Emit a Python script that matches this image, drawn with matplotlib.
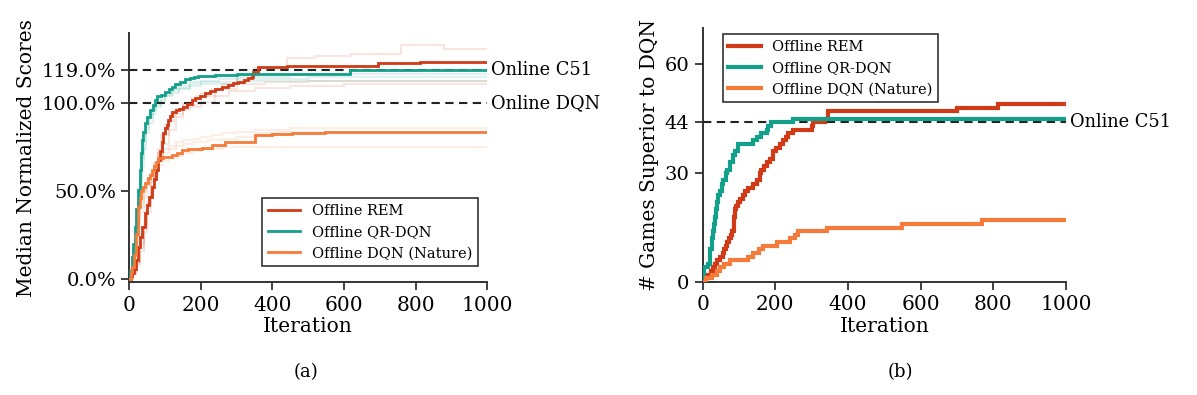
import matplotlib
matplotlib.use("Agg")
import matplotlib.pyplot as plt

plt.rcParams['font.family'] = ['DejaVu Serif']
plt.rcParams['lines.solid_joinstyle'] = 'miter'

# ---- panel (a): median normalized scores (%) ----
rem_it = [0, 4, 7, 12, 18, 25, 30, 36, 44, 50, 56, 63, 70, 76, 81, 86, 91, 95, 100, 105, 109, 114, 118,
          130, 140, 151, 162, 174, 185, 198, 212, 225, 240, 258, 275, 290, 305, 320, 333, 342, 347,
          361, 440, 520, 696, 813, 1000]
rem_sc = [0, 2, 3.4, 6, 11, 18.5, 24, 30, 37.5, 42, 47, 52.6, 57, 62, 67.8, 73, 78, 83, 86, 88, 90.5, 93, 95,
          96, 97, 98, 99.5, 102, 103, 104, 105.7, 107, 108, 109.4, 110.5, 111.5, 112.3, 113.5, 114.5, 115, 118,
          120.5, 121, 121.3, 123, 123.6, 123.6]

qr_it = [0, 3, 7, 11, 16, 20, 25, 29, 32, 35, 39, 44, 50, 58, 65, 72, 77, 88, 100, 110, 120, 128, 142,
         156, 170, 180, 193, 215, 240, 268, 300, 342, 450, 617, 1000]
qr_sc = [0, 5, 12.8, 20, 30, 40, 51, 62, 72, 79, 84, 88.6, 92, 96, 99, 102, 104, 105, 106.6, 108, 109.5, 111, 112,
         113.6, 114.3, 114.8, 115.5, 115.8, 116, 116.2, 116.5, 116.7, 117, 119, 119]

dqn_it = [0, 4, 7, 12, 18, 25, 30, 34, 39, 45, 52, 58, 63, 70, 76, 81, 95, 118, 132, 146, 165, 180, 202,
          230, 268, 342, 351, 400, 454, 547, 1000]
dqn_sc = [0, 4, 7, 14, 26, 41, 46, 50, 52.6, 55, 57.5, 59.5, 62, 64.5, 66.5, 68.7, 69.5, 70.6, 72, 73.5, 74, 74.2, 74.4,
          76.3, 78.2, 78.2, 81.8, 82.5, 83, 83.5, 83.5]

# faint individual runs (panel a)
rem_runs = [
    ([0, 10, 20, 30, 40, 50, 60, 70, 80, 90, 100, 115, 130, 150, 175, 200, 230, 260, 300, 350, 440, 520, 620, 760, 880, 1000],
     [0, 4, 10, 20, 32, 44, 56, 66, 74, 82, 88, 93, 97, 100, 103, 106, 108, 111, 116, 120, 126, 127, 128, 133, 131, 131]),
    ([0, 10, 20, 30, 40, 50, 60, 70, 80, 95, 110, 130, 150, 170, 200, 240, 280, 350, 450, 600, 1000],
     [0, 3, 8, 16, 27, 38, 50, 60, 68, 77, 85, 92, 96, 98, 101, 104, 107, 109, 110, 111, 111]),
    ([0, 10, 20, 30, 40, 50, 60, 70, 80, 95, 110, 125, 150, 190, 240, 300, 380, 500, 1000],
     [0, 4, 9, 18, 30, 42, 53, 63, 72, 82, 90, 94, 99, 104, 108, 111, 112, 113, 113]),
]
qr_runs = [
    ([0, 5, 10, 15, 20, 25, 30, 35, 40, 48, 55, 65, 75, 90, 100, 120, 140, 170, 200, 250, 300, 450, 1000],
     [0, 7, 15, 24, 35, 48, 62, 74, 82, 89, 94, 98, 101, 104, 106, 108, 110, 112, 113, 114, 115, 117, 117]),
    ([0, 5, 10, 15, 20, 25, 30, 35, 40, 48, 55, 65, 75, 90, 100, 120, 140, 170, 200, 300, 1000],
     [0, 5, 11, 19, 29, 40, 52, 64, 74, 83, 89, 94, 98, 101, 104, 106, 108, 110, 111, 113, 113]),
    ([0, 5, 10, 15, 20, 25, 30, 35, 40, 48, 55, 65, 75, 90, 100, 120, 140, 170, 200, 300, 500, 1000],
     [0, 6, 13, 22, 32, 44, 57, 69, 78, 86, 92, 96, 99, 102, 105, 107, 109, 111, 112, 114, 115, 115]),
]
dqn_runs = [
    ([0, 5, 10, 15, 20, 25, 30, 40, 50, 60, 70, 80, 95, 110, 130, 150, 175, 200, 230, 260, 300, 350, 450, 1000],
     [0, 5, 10, 17, 26, 35, 44, 52, 57, 61, 66, 71, 74, 76, 78, 79, 80, 81, 82, 83, 84, 85, 86, 86]),
    ([0, 5, 10, 15, 20, 25, 30, 40, 50, 60, 70, 80, 95, 110, 130, 150, 175, 200, 260, 350, 1000],
     [0, 3, 7, 13, 21, 30, 38, 47, 53, 58, 62, 65, 67, 69, 70, 72, 73, 74, 75, 75, 75]),
    ([0, 5, 10, 15, 20, 25, 30, 40, 50, 60, 70, 80, 95, 110, 130, 150, 180, 220, 260, 300, 360, 420, 1000],
     [0, 4, 9, 15, 24, 33, 41, 50, 55, 60, 64, 68, 72, 74, 76, 77, 78, 79, 80, 81, 83, 84, 84]),
]

# ---- panel (b): # games superior to DQN ----
rem_b_it = [0, 8, 15, 22, 29, 33, 40, 48, 55, 60, 64, 68, 72, 78, 82, 85, 87, 89, 93, 97, 103, 110, 116,
            125, 139, 150, 157, 162, 170, 176, 185, 194, 203, 213, 222, 230, 236, 249, 300, 304, 337, 346,
            699, 814, 1000]
rem_b = [0, 1, 2, 3, 4, 5, 6, 7, 8, 9, 10, 11, 12, 13, 14, 16, 18, 20, 21, 22, 23, 24, 25,
         26, 27, 28, 30, 31, 32, 33, 34, 36, 37, 38, 39, 40, 41, 42, 43, 44, 45, 47,
         48, 49, 49]

qr_b_it = [0, 1, 3, 15, 19, 21, 25, 28, 31, 33, 36, 40, 43, 48, 52, 57, 63, 68, 75, 84, 90, 98,
           139, 149, 162, 176, 181, 188, 249, 1000]
qr_b = [0, 2, 4, 5, 7, 9, 12, 14, 16, 18, 20, 22, 24, 25, 27, 28, 30, 31, 33, 35, 36, 38,
        39, 40, 41, 42, 43, 44, 45, 45]

dqn_b_it = [0, 10, 25, 40, 48, 60, 75, 125, 139, 155, 167, 204, 240, 255, 263, 341, 548, 768, 1000]
dqn_b = [0, 1, 2, 3, 4, 5, 6, 7, 8, 9, 10, 11, 12, 13, 14, 15, 16, 17, 17]

labels = ['Offline REM', 'Offline QR-DQN', 'Offline DQN (Nature)']
colors = ['#d03a16', '#13a08a', '#f47b3a']

fig = plt.figure(figsize=(11.97, 3.95), dpi=100)

def style(ax):
    for s in ['top', 'right']:
        ax.spines[s].set_visible(False)
    for s in ['left', 'bottom']:
        ax.spines[s].set_color('#333333')
        ax.spines[s].set_linewidth(1.4)
    ax.tick_params(direction='out', length=6, width=1.3, color='#333333')
    ax.tick_params(axis='x', labelsize=14.5)
    ax.tick_params(axis='y', labelsize=14)
    ax.set_xlim(0, 1000)
    ax.set_xticks([0, 200, 400, 600, 800, 1000])

dash = (0, (4, 2.6))

# panel (a)
ax1 = fig.add_axes([0.108, 0.2853, 0.299, 0.631])
style(ax1)
for runs, c in zip([rem_runs, qr_runs, dqn_runs], colors):
    for xs, ys in runs:
        ax1.step(xs, ys, where='post', color=c, alpha=0.13, lw=1.5)
ax1.step(rem_it, rem_sc, where='post', color=colors[0], lw=2, label=labels[0], zorder=4)
ax1.step(qr_it, qr_sc, where='post', color=colors[1], lw=2, label=labels[1], zorder=4)
ax1.step(dqn_it, dqn_sc, where='post', color=colors[2], lw=2, label=labels[2], zorder=4)
for yv, txt in [(119, 'Online C51'), (100, 'Online DQN')]:
    ax1.axhline(yv, color='#222222', lw=1.5, ls=dash, zorder=3)
    ax1.text(1010, yv, txt, va='center', ha='left', fontsize=12.8)
ax1.set_ylim(-1.7, 140)
ax1.set_yticks([0, 50, 100, 119])
ax1.set_yticklabels(['0.0%', '50.0%', '100.0%', '119.0%'])
ax1.set_xlabel('Iteration', fontsize=14.5, labelpad=2)
ax1.set_ylabel('Median Normalized Scores', fontsize=14.5, labelpad=4)
leg = ax1.legend(loc='lower right', bbox_to_anchor=(0.995, 0.035), fontsize=10.5,
                 fancybox=False, edgecolor='#333333', framealpha=1, handlelength=2.2)
leg.get_frame().set_linewidth(1.2)

# panel (b)
ax2 = fig.add_axes([0.587, 0.2861, 0.3035, 0.643])
style(ax2)
ax2.step(rem_b_it, rem_b, where='post', color=colors[0], lw=3, label=labels[0], zorder=4)
ax2.step(qr_b_it, qr_b, where='post', color=colors[1], lw=3, label=labels[1], zorder=4)
ax2.step(dqn_b_it, dqn_b, where='post', color=colors[2], lw=3, label=labels[2], zorder=4)
ax2.axhline(44, color='#222222', lw=1.5, ls=dash, zorder=3)
ax2.text(1010, 44, 'Online C51', va='center', ha='left', fontsize=12.8)
ax2.set_ylim(0, 70)
ax2.set_yticks([0, 30, 44, 60])
ax2.set_xlabel('Iteration', fontsize=14.5, labelpad=2)
ax2.set_ylabel('# Games Superior to DQN', fontsize=14.5, labelpad=4)
leg2 = ax2.legend(loc='upper left', bbox_to_anchor=(0.035, 1.005), fontsize=10.5,
                  fancybox=False, edgecolor='#333333', framealpha=1, handlelength=2.2)
leg2.get_frame().set_linewidth(1.2)

fig.text(0.2556, 0.058, '(a)', ha='center', va='center', fontsize=13)
fig.text(0.752, 0.058, '(b)', ha='center', va='center', fontsize=13)

fig.savefig('out.png', dpi=100)
